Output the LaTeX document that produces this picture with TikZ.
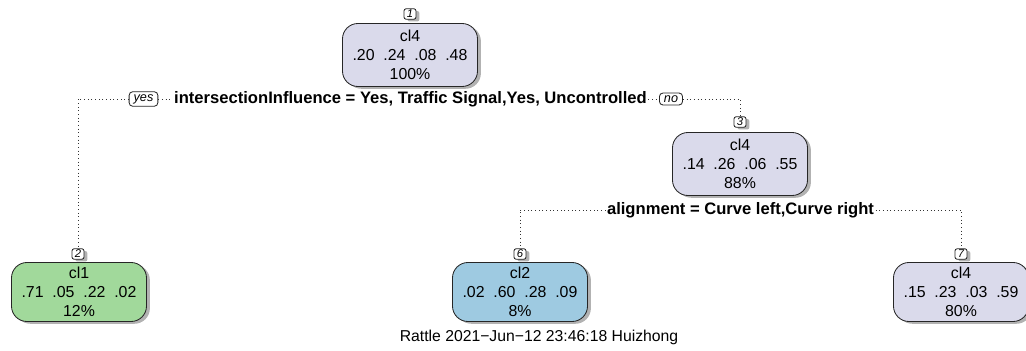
\documentclass[tikz,border=0pt]{standalone}
\usepackage{fontspec}
\setmainfont{Liberation Sans}
\usetikzlibrary{positioning,shadows}
\definecolor{leafgreen}{HTML}{A1D99B}
\definecolor{leafblue}{HTML}{9ECAE1}
\definecolor{leafpurple}{HTML}{DADAEB}

\begin{document}
\begin{tikzpicture}[x=0.025cm,y=-0.025cm,
  base/.style={draw=black!85,line width=0.6pt,align=center,inner sep=0pt},
  shad/.style={drop shadow={shadow xshift=2.4pt,shadow yshift=-1.6pt,fill=black!30,opacity=1}},
  leaf/.style={base,shad,rounded corners=11pt,minimum width=3.375cm,minimum height=1.475cm,
    font=\fontsize{11.3}{13.5}\selectfont},
  num/.style={base,shad,rounded corners=1.5pt,fill=white,minimum width=0.3cm,minimum height=0.26cm,
    font=\fontsize{8}{8}\selectfont\itshape},
  yesno/.style={base,rounded corners=2.5pt,fill=white,inner xsep=3.2pt,inner ysep=1.8pt,
    font=\fontsize{9}{9}\selectfont\itshape},
  split/.style={font=\fontsize{11.8}{12}\selectfont\bfseries,inner sep=1pt},
  conn/.style={dotted,line width=0.6pt,black!80}]
\useasboundingbox (0,0) rectangle (1026,350);
% nodes of the tree
\node[leaf,fill=leafpurple,minimum height=1.575cm] (n1) at (410,55) {cl4\\.20~~.24~~.08~~.48\\100\%};
\node[num] (l1) at (410,14) {1};
\node[leaf,fill=leafpurple,minimum height=1.575cm] (n3) at (740,164) {cl4\\.14~~.26~~.06~~.55\\88\%};
\node[num] (l3) at (740,122) {3};
\node[leaf,fill=leafgreen] (n2) at (79,292) {cl1\\.71~~.05~~.22~~.02\\12\%};
\node[num] (l2) at (78,254) {2};
\node[leaf,fill=leafblue] (n6) at (520,292) {cl2\\.02~~.60~~.28~~.09\\8\%};
\node[num] (l6) at (520,254) {6};
\node[leaf,fill=leafpurple] (n7) at (961,292) {cl4\\.15~~.23~~.03~~.59\\80\%};
\node[num] (l7) at (961,254) {7};
% splits
\node[split] (s1) at (410.5,99) {intersectionInfluence = Yes, Traffic Signal,Yes, Uncontrolled};
\node[yesno] (yes) at (143.5,99) {yes};
\node[yesno] (no) at (671,99) {no};
\node[split] (s2) at (740.5,210) {alignment = Curve left,Curve right};
\draw[conn] (yes.west) -| (l2.north);
\draw[conn] (yes.east) -- (s1.west);
\draw[conn] (s1.east) -- (no.west);
\draw[conn] (no.east) -| (l3.north);
\draw[conn] (s2.west) -| (l6.north);
\draw[conn] (s2.east) -| (l7.north);
% footer
\node[font=\fontsize{11.2}{12}\selectfont] (foot) at (539,337) {Rattle 2021−Jun−12 23:46:18 Huizhong};
\end{tikzpicture}
\end{document}
